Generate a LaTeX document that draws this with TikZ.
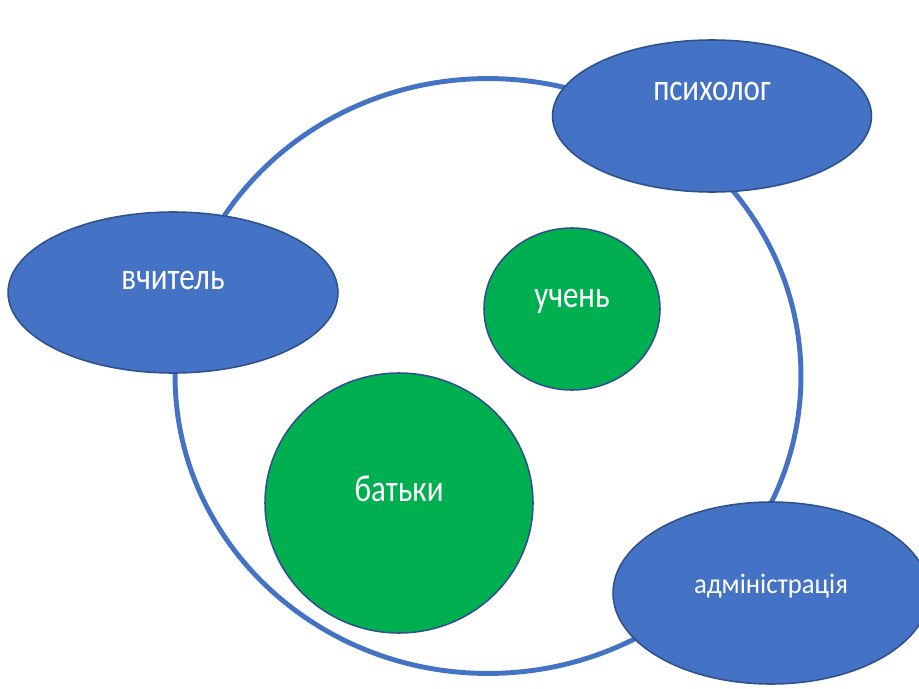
\documentclass[tikz,border=0pt]{standalone}
\usepackage{fontspec}
\setmainfont{Carlito}
\newfontfamily\cf[FakeStretch=0.82]{Carlito}
\newfontfamily\cfs[FakeStretch=0.95]{Carlito}
\usetikzlibrary{shapes.geometric}
\definecolor{bl}{HTML}{4472C4}
\definecolor{bo}{HTML}{2F528F}
\definecolor{gr}{HTML}{00B050}
\begin{document}
\begin{tikzpicture}[x=0.02cm,y=-0.02cm,
  ring/.style={ellipse, draw=bl, line width=2.8pt, inner sep=0pt, outer sep=0pt},
  bluell/.style={ellipse, fill=bl, draw=bo, line width=0.9pt, inner sep=0pt},
  greenc/.style={ellipse, fill=gr, draw=bo, line width=0.9pt, inner sep=0pt},
  lbl/.style={text=white, anchor=base, inner sep=0pt, font=\cf\fontsize{21.5}{24}\selectfont},
  lblsm/.style={text=white, anchor=base, inner sep=0pt, font=\cfs\fontsize{16}{19}\selectfont}]
\useasboundingbox (0,0) rectangle (919,689);
\clip (0,0) rectangle (919,689);
\node[ring, minimum width=12.52cm, minimum height=11.9cm] (ring) at (488,376) {};
\node[bluell, minimum width=6.38cm, minimum height=3.04cm] (psy) at (712,116) {};
\node[bluell, minimum width=6.6cm, minimum height=3.22cm] (tea) at (173,292.5) {};
\node[bluell, minimum width=6.32cm, minimum height=3.64cm] (adm) at (771,593) {};
\node[greenc, minimum width=3.52cm, minimum height=3.24cm] (stu) at (572,309) {};
\node[greenc, minimum width=5.36cm, minimum height=5.2cm] (par) at (399,503) {};
\node[lbl] (tpsy) at (712,101) {психолог};
\node[lbl] (ttea) at (173,289) {вчитель};
\node[lblsm] (tadm) at (771,593) {адміністрація};
\node[lbl] (tstu) at (572,307) {учень};
\node[lbl] (tpar) at (399,501) {батьки};
\end{tikzpicture}
\end{document}
